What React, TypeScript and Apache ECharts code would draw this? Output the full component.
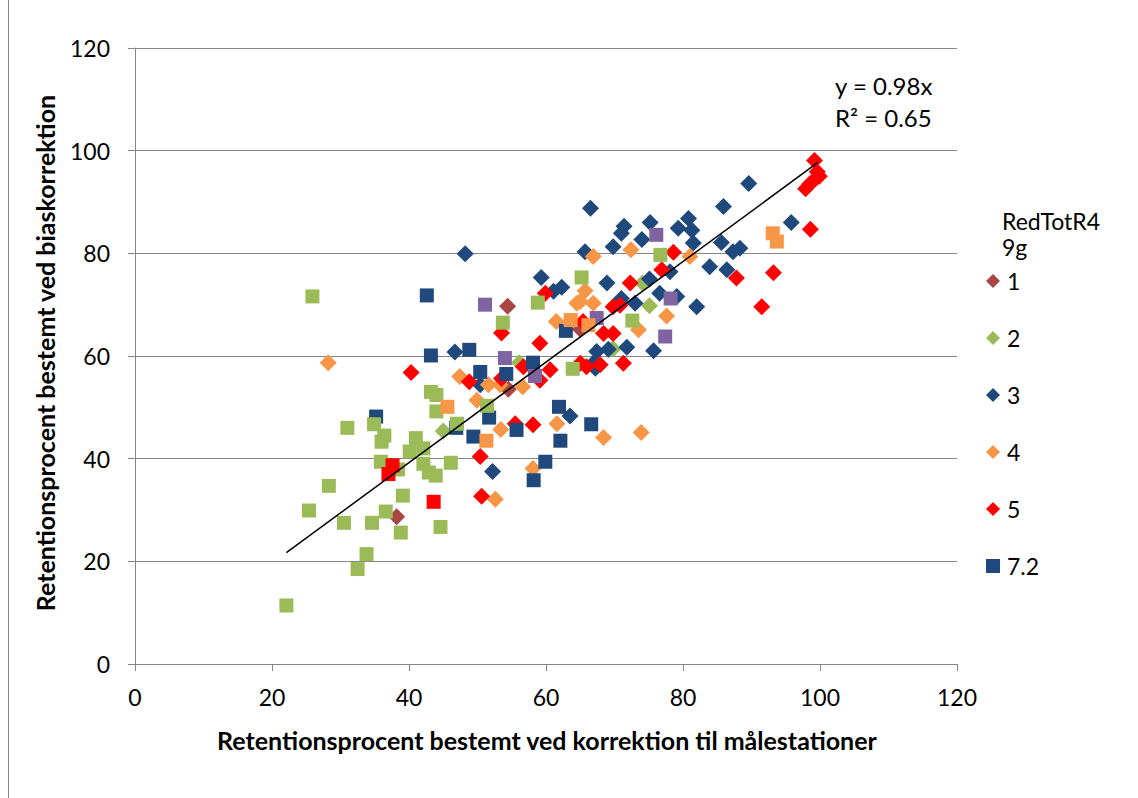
import React, { useEffect, useRef } from "react";
import * as echarts from "echarts";

// Axis ticks
const axisMin = 0;
const axisMax = 120;
const axisStep = 20;

// Legend series (name, values [x, y])
const seriesNames = ["1", "2", "3", "4", "5", "7.2"];

const s1: number[][] = [[54.4, 69.7], [65, 65.2], [54.5, 53.5], [38.2, 28.7]];

const s2: number[][] = [[56.1, 58.7], [45, 45.4], [74.1, 74.2], [75.1, 69.8], [69.8, 61.4]];

const s3: number[][] = [
  [48.2, 79.9], [46.7, 60.8], [50.4, 54.4], [52.2, 37.5], [63.5, 48.3], [59.3, 75.3],
  [62.3, 73.4], [61.1, 72.6], [66.5, 88.8], [71.4, 85.3], [71, 83.9], [75.2, 86],
  [74, 82.7], [69.8, 81.3], [79.3, 84.9], [80.8, 86.8], [81.3, 84.5], [81.5, 82],
  [65.7, 80.3], [89.6, 93.6], [85.9, 89.1], [95.8, 86], [85.6, 82.1], [87.3, 80.3],
  [88.3, 81], [83.9, 77.4], [86.4, 76.8], [82, 69.6], [79.1, 71.6], [68.9, 74.2],
  [75.1, 75], [78.1, 76.4], [76.6, 72.2], [71, 71.2], [73, 70.3], [67.4, 60.9],
  [69.1, 61.3], [71.8, 61.7], [75.7, 61], [66.9, 58.6], [67.2, 57.6],
];

const s4: number[][] = [
  [28.2, 58.7], [47.4, 56], [49.9, 51.4], [51.6, 54.4], [53.3, 54.4], [56.6, 54],
  [53.4, 45.7], [61.6, 46.8], [58.1, 38.1], [52.6, 32.1], [68.4, 44.1], [73.9, 45.1],
  [61.5, 66.7], [64.5, 70.3], [65.7, 72.7], [65, 70.6], [66.9, 70.3], [66.9, 79.4],
  [72.4, 80.7], [81, 79.4], [73.5, 65.1], [77.6, 67.8],
];

const s5: number[][] = [
  [40.3, 56.8], [48.8, 55], [50.4, 40.4], [50.6, 32.7], [53.5, 64.5], [53.5, 55.6],
  [59.1, 62.5], [59.9, 72.2], [56.7, 57.9], [60.6, 57.3], [59.1, 55.3], [55.5, 46.8],
  [58.1, 46.6], [72.3, 74.2], [76.9, 76.8], [69.8, 69.6], [70.8, 69.9], [65.4, 66.7],
  [68.4, 64.4], [69.8, 64.4], [65, 58.6], [65.9, 57.9], [67.9, 58.3], [71.3, 58.6],
  [78.6, 80.2], [87.8, 75.2], [93.2, 76.2], [91.5, 69.6], [98.6, 84.7], [99.2, 98.1],
  [99.6, 95.9], [99.9, 95], [99.3, 94.5], [98.5, 93.5], [97.9, 92.6],
];

const s72: number[][] = [
  [42.6, 71.8], [43.2, 60.1], [48.8, 61.2], [50.4, 56.9], [54.2, 56.5], [58.1, 58.7],
  [62.9, 64.9], [51.7, 48], [61.9, 50.1], [55.7, 45.6], [49.4, 44.3], [62.1, 43.5],
  [59.9, 39.4], [58.2, 35.8], [66.6, 46.7], [35.2, 48.2], [46.9, 46],
];

// Extra square-marker series (not shown in the legend)
const greenSquares: number[][] = [
  [25.9, 71.6], [43.2, 53], [44, 52.4], [44, 49.2], [31, 46], [34.9, 46.7], [47, 46.8],
  [36.4, 44.5], [36, 43.3], [41, 44], [40.1, 41.4], [42.1, 42], [35.9, 39.4], [42.1, 39],
  [46.1, 39.2], [38.4, 37.9], [42.9, 37.3], [43.9, 36.7], [28.3, 34.7], [39.1, 32.8],
  [25.4, 29.9], [36.6, 29.7], [30.5, 27.5], [34.6, 27.5], [38.8, 25.6], [44.6, 26.7],
  [33.8, 21.4], [32.5, 18.5], [22.1, 11.4], [51.4, 50.3], [53.7, 66.5], [58.8, 70.4],
  [63.9, 57.5], [65.2, 75.3], [72.6, 66.9], [76.7, 79.7],
];
const purpleSquares: number[][] = [
  [51.1, 70], [54, 59.6], [58.4, 56.1], [67.4, 67.4], [76.1, 83.6], [78.2, 71.2], [77.4, 63.8],
];
const redSquares: number[][] = [[37.6, 38.7], [37, 37], [43.6, 31.6]];
const orangeSquares: number[][] = [
  [45.6, 50.1], [51.3, 43.5], [63.6, 67], [66.2, 66], [93.1, 83.9], [93.7, 82.3],
];

// Trendline end points (y = 0.98x)
const trendLine: number[][] = [[22.1, 21.7], [99.7, 97.7]];
const trendLabel = ["y = 0.98x", "R² = 0.65"];
const legendTitle = ["RedTotR4", "9g"];

const xTitle = "Retentionsprocent bestemt ved korrektion til målestationer";
const yTitle = "Retentionsprocent bestemt ved biaskorrektion";

const FONT = "Lato";
const GRAY = "#868686";

export default function App() {
  const ref = useRef<HTMLDivElement>(null);

  useEffect(() => {
    if (!ref.current) return;
    const chart = echarts.init(ref.current, undefined, { renderer: "svg" });

    const diamond = (name: string, data: number[][], color: string) => ({
      name,
      type: "scatter",
      data,
      symbol: "diamond",
      symbolSize: 17,
      itemStyle: { color, opacity: 1 },
      z: 3,
    });
    const square = (name: string, data: number[][], color: string) => ({
      name,
      type: "scatter",
      data,
      symbol: "rect",
      symbolSize: 14,
      itemStyle: { color, opacity: 1 },
      z: 3,
    });

    const axisCommon = {
      type: "value",
      min: axisMin,
      max: axisMax,
      interval: axisStep,
      axisLine: { show: true, lineStyle: { color: GRAY, width: 1 } },
      axisTick: { show: true, inside: false, length: 7, lineStyle: { color: GRAY } },
    };

    chart.setOption({
      animation: false,
      backgroundColor: "#ffffff",
      grid: { left: 135, right: 181, top: 48, bottom: 134, containLabel: false },
      xAxis: {
        ...axisCommon,
        splitLine: { show: false },
        axisLabel: { color: "#000", fontSize: 23, fontFamily: FONT, margin: 21 },
      },
      yAxis: {
        ...axisCommon,
        splitLine: { show: true, lineStyle: { color: GRAY, width: 1 } },
        axisLabel: { color: "#000", fontSize: 23, fontFamily: FONT, margin: 25 },
      },
      legend: {
        orient: "vertical",
        left: 981,
        top: 264,
        itemWidth: 14,
        itemHeight: 14,
        itemGap: 33,
        data: seriesNames,
        textStyle: { color: "#000", fontSize: 23, fontFamily: FONT, lineHeight: 24, padding: [0, 0, 0, 2] },
      },
      graphic: [
        { type: "line", shape: { x1: 8.5, y1: 0, x2: 8.5, y2: 798 }, style: { stroke: GRAY, lineWidth: 1 } },
        {
          type: "text", x: 547, y: 740,
          style: { text: xTitle, font: `bold 25px ${FONT}`, fill: "#000", textAlign: "center", textVerticalAlign: "middle" },
        },
        {
          type: "text", x: 45, y: 353, rotation: Math.PI / 2,
          style: { text: yTitle, font: `bold 25px ${FONT}`, fill: "#000", textAlign: "center", textVerticalAlign: "middle" },
        },
        {
          type: "text", x: 835, y: 85,
          style: { text: trendLabel[0], font: `24px ${FONT}`, fill: "#000", textAlign: "left", textVerticalAlign: "middle" },
        },
        {
          type: "text", x: 835, y: 117,
          style: { text: trendLabel[1], font: `24px ${FONT}`, fill: "#000", textAlign: "left", textVerticalAlign: "middle" },
        },
        {
          type: "text", x: 1002, y: 221,
          style: { text: legendTitle[0], font: `23px ${FONT}`, fill: "#000", textAlign: "left", textVerticalAlign: "middle" },
        },
        {
          type: "text", x: 1002, y: 247,
          style: { text: legendTitle[1], font: `23px ${FONT}`, fill: "#000", textAlign: "left", textVerticalAlign: "middle" },
        },
      ],
      series: [
        diamond(seriesNames[0], s1, "#A94643"),
        diamond(seriesNames[1], s2, "#9BBB59"),
        diamond(seriesNames[2], s3, "#1F497D"),
        diamond(seriesNames[3], s4, "#F79646"),
        diamond(seriesNames[4], s5, "#FF0000"),
        square(seriesNames[5], s72, "#1F497D"),
        square("2 ", greenSquares, "#9BBB59"),
        square("6", purpleSquares, "#8064A2"),
        square("5 ", redSquares, "#FF0000"),
        square("4 ", orangeSquares, "#F79646"),
        {
          name: "trend",
          type: "line",
          data: trendLine,
          symbol: "none",
          lineStyle: { color: "#000", width: 1.5 },
          z: 5,
        },
      ],
    });

    return () => chart.dispose();
  }, []);

  return (
    <div
      ref={ref}
      style={{ position: "absolute", left: 0, top: 0, width: 1138, height: 798 }}
    />
  );
}
